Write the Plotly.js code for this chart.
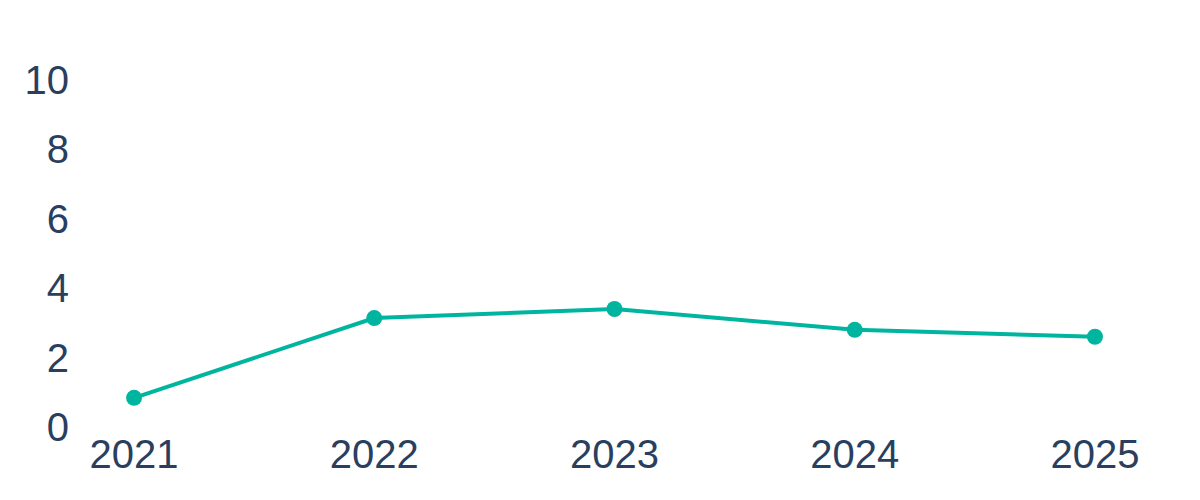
<!DOCTYPE html>
<html>
<head>
<meta charset="utf-8">
<script src="https://cdn.plot.ly/plotly-3.0.1.min.js"></script>
<style>
  html, body { margin: 0; padding: 0; background: #ffffff; }
  #chart { width: 1200px; height: 500px; }
</style>
</head>
<body>
<div id="chart"></div>
<script>
// Values
const years = ['2021', '2022', '2023', '2024', '2025'];
const values = [0.84, 3.14, 3.40, 2.80, 2.60];

const lineColor = '#00b5a0';
const textColor = '#2a3f5f';

const plotData = [
  {
    x: years,
    y: values,
    type: 'scatter',
    mode: 'lines+markers',
    line: { color: lineColor, width: 4 },
    marker: { color: lineColor, size: 16 },
    cliponaxis: false,
    hoverinfo: 'x+y'
  }
];

const layout = {
  width: 1200,
  height: 500,
  margin: { l: 86, r: 57, t: 80, b: 73, pad: 0 },
  paper_bgcolor: '#ffffff',
  plot_bgcolor: '#ffffff',
  font: { family: 'Liberation Sans, Arial, sans-serif', size: 40, color: textColor },
  showlegend: false,
  xaxis: {
    type: 'category',
    range: [-0.2, 4.2],
    showgrid: false,
    zeroline: false,
    showline: false,
    ticks: ''
  },
  yaxis: {
    range: [0, 10],
    dtick: 2,
    showgrid: false,
    zeroline: false,
    showline: false,
    ticks: '',
    ticklabelstandoff: 16
  }
};

Plotly.newPlot('chart', plotData, layout, { displayModeBar: false, staticPlot: true });
</script>
</body>
</html>
